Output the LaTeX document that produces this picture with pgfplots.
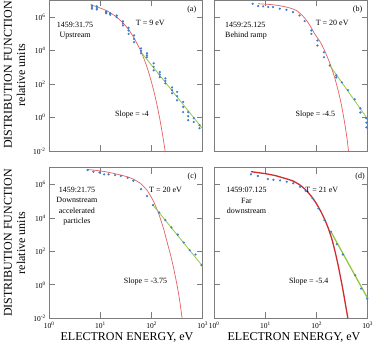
\documentclass[border=0pt]{standalone}
\usepackage{fontspec}
\setmainfont{Liberation Serif}
\usepackage{pgfplots}
\pgfplotsset{compat=1.18}

\definecolor{ptblue}{RGB}{60,125,205}
\definecolor{fitred}{RGB}{228,95,95}
\definecolor{darkred}{RGB}{205,45,45}
\definecolor{fitgreen}{RGB}{150,198,70}
\definecolor{framegray}{RGB}{125,125,125}

\pgfplotsset{
  every axis/.append style={
    scale only axis, width=153.5pt, height=150.6pt,
    anchor=south west,
    xmin=1, xmax=1000, ymin=1e-2, ymax=1e7,
    xtick={1,10,100,1000}, ytick={1e-2,1,1e2,1e4,1e6},
    xminorticks=false, yminorticks=false,
    tick align=inside, major tick length=6pt,
    axis line style={framegray, line width=1pt},
    every tick/.style={framegray, line width=0.8pt},
    tick label style={font=\fontsize{7.5}{8}\selectfont},
  },
}
\tikzset{dfann/.style={font=\fontsize{8}{10.5}\selectfont, align=center}}

\begin{document}
\begin{tikzpicture}
\useasboundingbox (0,0) rectangle (374pt,346pt);

% (a) upstream
\begin{loglogaxis}[at={(49pt,195pt)}, xticklabels={},
    yticklabels={10\textsuperscript{-2},10\textsuperscript{0},10\textsuperscript{2},10\textsuperscript{4},10\textsuperscript{6}}]
  \addplot[only marks, mark=*, mark size=0.9pt, ptblue] coordinates {
    (6.9,5.0e6) (6.9,4.0e6) (6.9,3.2e6)
    (8.6,4.4e6) (8.6,3.5e6) (8.6,2.9e6)
    (13.1,2.2e6) (13.1,1.9e6) (13.1,1.7e6)
    (15.7,1.7e6) (15.7,1.4e6)
    (21,1.26e6) (21,1.0e6)
    (27.9,5.6e5) (27.9,4.2e5) (27.9,3.2e5)
    (35.9,2.3e5) (35.9,1.6e5) (35.9,1.0e5)
    (46,8.1e4) (46,5.0e4) (46,3.2e4)
    (63,1.35e4) (63,9.5e3) (63,6.9e3)
    (82,6.9e3) (82,5.2e3) (82,4.0e3)
    (111,1.74e3) (111,1.07e3) (111,6.6e2)
    (146,5.2e2) (146,3.7e2) (146,2.6e2)
    (188,2.2e2) (188,1.55e2) (188,1.1e2)
    (254,63) (254,43) (254,28)
    (319,34) (319,19) (319,10.7)
    (419,8.5) (419,4.3) (419,2.1)
    (525,2.1) (525,1.2) (525,0.69)
    (676,0.91) (676,0.54)
    (875,0.35) (875,0.23)
  };
  \addplot[fitred, line width=0.7pt, smooth, tension=0.3] coordinates {
    (6.5,5.6e6) (7,5.0e6) (8.5,4.3e6) (10,3.5e6) (13.5,2.4e6) (17,1.58e6)
    (21,1.0e6) (26,5.6e5) (31,3.2e5) (38,1.41e5) (45,6.3e4) (52,2.8e4)
    (60,1.2e4) (70,4.0e3) (80,1.32e3) (90,427) (100,141) (110,46.8)
    (120,15.5) (130,5.0) (140,1.66) (150,0.55) (160,0.18) (170,0.06)
    (180,0.0195) (186,0.01)
  };
  \addplot[fitgreen, line width=0.8pt] coordinates {(63,8.1e3) (1000,0.22)};
  \node[dfann] at (axis description cs:0.17,0.80) {1459:31.75\\Upstream};
  \node[dfann] at (axis description cs:0.66,0.85) {T = 9 eV};
  \node[dfann] at (axis description cs:0.54,0.24) {Slope = -4};
  \node[dfann] at (axis description cs:0.93,0.94) {(a)};
\end{loglogaxis}

% (b) behind ramp
\begin{loglogaxis}[at={(214pt,195pt)}, xticklabels={}, yticklabels={}]
  \addplot[only marks, mark=*, mark size=0.9pt, ptblue] coordinates {
    (5.7,6.3e6) (7.3,4.6e6) (9.1,4.4e6) (11.5,4.0e6) (14.3,4.0e6)
    (19.3,3.2e6) (26,2.75e6) (35,2.0e6) (47,1.26e6) (59,5.8e5)
    (80,1.6e5) (80,1.0e5) (105,4.0e4) (105,2.0e4)
    (141,7.9e3) (141,4.0e3) (183,1.3e3) (245,330) (245,250)
    (316,126) (415,43) (562,12.3) (725,3.5) (725,2.0)
    (950,0.9) (950,0.5) (950,0.26)
  };
  \addplot[fitred, line width=0.7pt, smooth, tension=0.3] coordinates {
    (7.3,6.3e6) (12,5.75e6) (18,5.0e6) (26,4.0e6) (34,3.16e6) (41,2.5e6)
    (50,1.5e6) (59,8.9e5) (75,3.2e5) (93,1e5) (120,3.2e4) (145,1e4)
    (170,3.2e3) (196,1e3) (230,224) (265,45) (300,8.9) (332,1.8)
    (370,0.25) (400,0.05) (425,0.01)
  };
  \addplot[fitgreen, line width=0.8pt] coordinates {(183,1.3e3) (990,0.87)};
  \node[dfann, align=left, anchor=west] at (axis description cs:0.05,0.80) {1459:25.125\\Behind ramp};
  \node[dfann] at (axis description cs:0.77,0.85) {T = 20 eV};
  \node[dfann] at (axis description cs:0.66,0.24) {Slope = -4.5};
  \node[dfann] at (axis description cs:0.935,0.94) {(b)};
\end{loglogaxis}

% (c) downstream accelerated
\begin{loglogaxis}[at={(49.3pt,27.7pt)},
    xticklabels={10\textsuperscript{0},10\textsuperscript{1},10\textsuperscript{2},10\textsuperscript{3}},
    yticklabels={10\textsuperscript{-2},10\textsuperscript{0},10\textsuperscript{2},10\textsuperscript{4},10\textsuperscript{6}}]
  \addplot[only marks, mark=*, mark size=0.9pt, ptblue] coordinates {
    (5.6,7.2e6) (7.3,5.8e6) (9.6,5.2e6) (11.8,4.0e6) (14.4,4.0e6)
    (19.4,3.6e6) (25,3.2e6) (34,2.5e6) (44,1.66e6) (62,5.2e5)
    (81,2.0e5) (106,5.9e4) (141,2.1e4) (185,7.4e3) (243,2.7e3)
    (324,1.0e3) (424,340) (556,117) (719,65) (944,15)
  };
  \addplot[fitred, line width=0.7pt, smooth, tension=0.3] coordinates {
    (5.5,7.9e6) (7.3,7.2e6) (12,5.9e6) (18,4.6e6) (25,3.6e6) (33,2.9e6)
    (45,2.0e6) (60,1.17e6) (81,4.6e5) (95,2.1e5) (110,9.1e4) (130,2.8e4)
    (148,9.3e3) (175,1.8e3) (200,370) (235,59) (270,9.5) (305,1.5)
    (340,0.24) (370,0.043) (394,0.01)
  };
  \addplot[fitgreen, line width=0.8pt] coordinates {(106,5.9e4) (1000,12.6)};
  \node[dfann] at (axis description cs:0.18,0.746) {1459:21.75\\Downstream\\accelerated\\particles};
  \node[dfann] at (axis description cs:0.757,0.852) {T = 20 eV};
  \node[dfann] at (axis description cs:0.627,0.243) {Slope = -3.75};
  \node[dfann] at (axis description cs:0.93,0.94) {(c)};
\end{loglogaxis}

% (d) far downstream
\begin{loglogaxis}[at={(214.3pt,27.7pt)},
    xticklabels={10\textsuperscript{0},10\textsuperscript{1},10\textsuperscript{2},10\textsuperscript{3}},
    yticklabels={}]
  \addplot[only marks, mark=*, mark size=0.9pt, ptblue] coordinates {
    (5.2,4.0e6) (7.1,3.2e6) (11.1,2.1e6) (14.3,1.9e6) (19.3,1.74e6)
    (26,1.45e6) (35,1.17e6) (47.5,7.2e5) (61,4.2e5) (83,1.5e5)
    (108,3.7e4) (142,7.4e3) (190,1.5e3) (248,270) (325,65)
    (566,3.7) (741,0.6) (975,0.15)
  };
  \addplot[darkred, line width=1.3pt, smooth, tension=0.3] coordinates {
    (5.2,5.8e6) (10,4.4e6) (16,3.3e6) (24,2.3e6) (35,1.58e6) (47.5,9.1e5)
    (62,4.5e5) (80.5,1.8e5) (100,6.8e4) (126,1.9e4) (150,6.0e3) (170,2.3e3)
    (200,500) (230,93) (260,17.8) (288,3.7) (320,0.71) (350,0.15)
    (380,0.035) (408,0.01)
  };
  \addplot[fitgreen, line width=1.3pt] coordinates {(190,1.5e3) (1000,0.15)};
  \node[dfann] at (axis description cs:0.21,0.78) {1459:07.125\\Far\\downstream};
  \node[dfann] at (axis description cs:0.70,0.852) {T = 21 eV};
  \node[dfann] at (axis description cs:0.615,0.243) {Slope = -5.4};
  \node[dfann] at (axis description cs:0.95,0.94) {(d)};
\end{loglogaxis}

% axis titles
\node[rotate=90, font=\fontsize{12}{13}\selectfont] at (8pt,271pt) {DISTRIBUTION FUNCTION};
\node[rotate=90, font=\fontsize{12}{13}\selectfont] at (21pt,271pt) {relative units};
\node[rotate=90, font=\fontsize{12}{13}\selectfont] at (8pt,103pt) {DISTRIBUTION FUNCTION};
\node[rotate=90, font=\fontsize{12}{13}\selectfont] at (21pt,103pt) {relative units};
\node[font=\fontsize{12}{13}\selectfont] at (127pt,9pt) {ELECTRON ENERGY, eV};
\node[font=\fontsize{12}{13}\selectfont] at (294pt,9pt) {ELECTRON ENERGY, eV};
\end{tikzpicture}
\end{document}
